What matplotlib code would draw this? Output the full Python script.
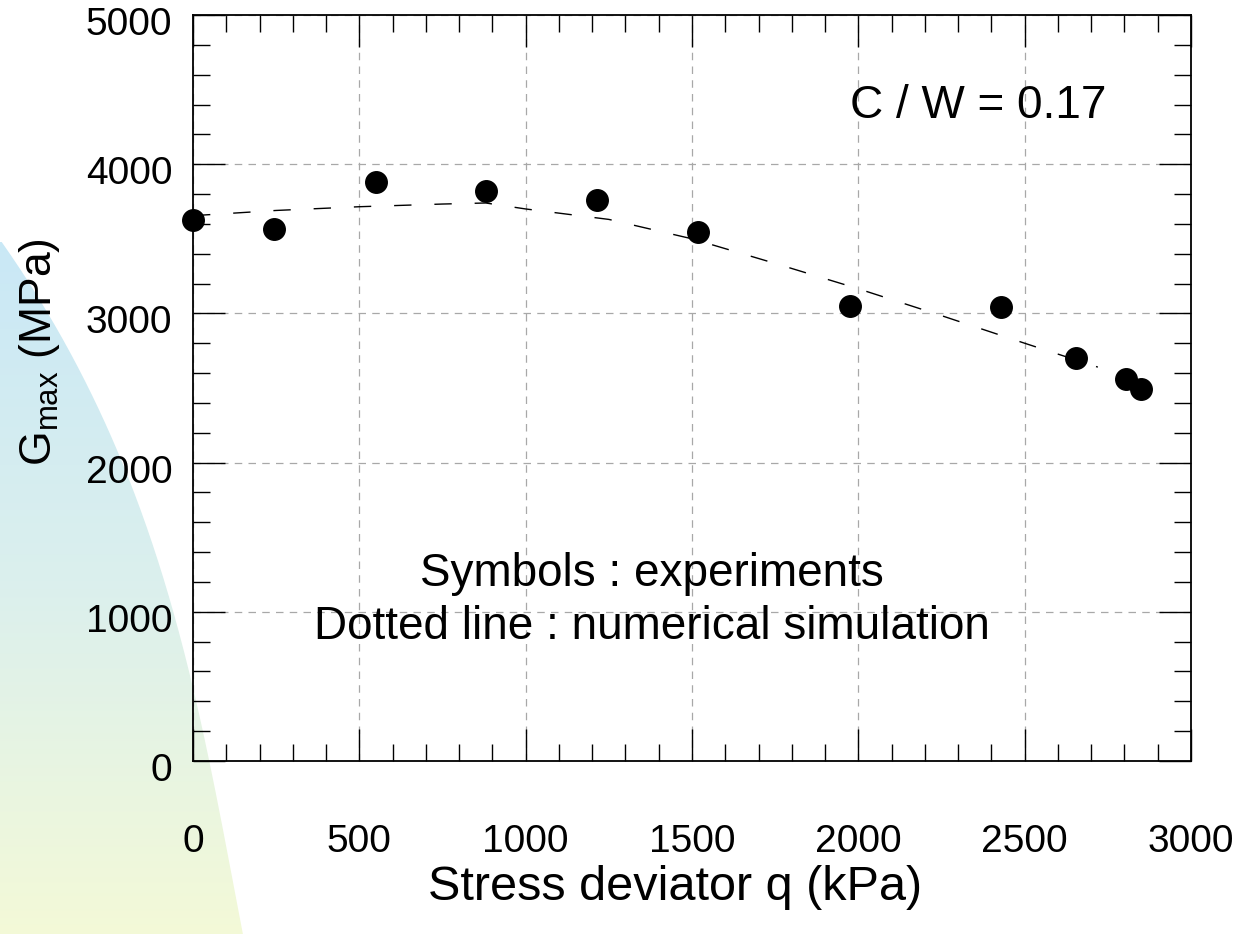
import numpy as np
import matplotlib
matplotlib.use("Agg")
import matplotlib.pyplot as plt
import matplotlib.transforms as mtransforms
from matplotlib.path import Path
from matplotlib.patches import PathPatch

plt.rcParams['font.family'] = ['Liberation Sans', 'DejaVu Sans']
plt.rcParams['mathtext.fontset'] = 'custom'
plt.rcParams['mathtext.rm'] = 'Liberation Sans'
plt.rcParams['mathtext.it'] = 'Liberation Sans'

# Experimental data
q_exp = [0, 243, 551, 880, 1215, 1517, 1976, 2430, 2653, 2805, 2851]
G_exp = [3625, 3566, 3879, 3819, 3760, 3545, 3049, 3040, 2701, 2558, 2491]

# Numerical simulation
q_sim = [0, 250, 500, 750, 880, 1000, 1250, 1500, 1750, 2000, 2250, 2500, 2720]
G_sim = [3655, 3690, 3715, 3733, 3740, 3700, 3630, 3500, 3335, 3165, 2985, 2800, 2640]

x_ticks = [0, 500, 1000, 1500, 2000, 2500, 3000]
y_ticks = [0, 1000, 2000, 3000, 4000, 5000]

W, H = 1245, 934
fig = plt.figure(figsize=(W / 100, H / 100), dpi=100)

# decorative gradient background on the left (smooth curved edge)
bg = fig.add_axes([0, 0, 1, 1], zorder=-5)
bg.set_xlim(0, W)
bg.set_ylim(H, 0)
bg.axis('off')
grad = np.linspace(0, 1, 256)[:, None, None]
top = np.array([0.79, 0.91, 0.965])
mid = np.array([0.86, 0.94, 0.93])
bot = np.array([0.955, 0.978, 0.845])
cols = np.where(grad < 0.5,
                top + (mid - top) * (grad / 0.5),
                mid + (bot - mid) * ((grad - 0.5) / 0.5))
cols = np.repeat(cols, 2, axis=1)
im = bg.imshow(cols, extent=[0, 260, H, 240], aspect='auto', zorder=0)
yb = np.array([242, 290, 340, 407, 480, 547, 613, 680, 760, 847, 934])
xb = np.array([0, 33, 67, 100, 127, 150, 173, 193, 210, 227, 242])
coef = np.polyfit(yb, xb, 3)
yy = np.linspace(242, 934, 200)
xx = np.clip(np.polyval(coef, yy), 0, None)
verts = list(zip(xx, yy)) + [(0, 934), (0, 242)]
poly = PathPatch(Path(verts), facecolor='none', edgecolor='none')
bg.add_patch(poly)
im.set_clip_path(poly)

ax = fig.add_axes([193 / W, 1 - 761 / H, (1191 - 193) / W, (761 - 15) / H])
ax.patch.set_alpha(0)
ax.set_xlim(0, 3000)
ax.set_ylim(0, 5000)

ax.plot(q_sim, G_sim, color='black', lw=1.0, linestyle=(0, (12.5, 16.5)), zorder=3)
ax.plot(q_exp, G_exp, 'o', color='black', markersize=15.5, zorder=4, clip_on=False)

ax.set_xticks(x_ticks)
ax.set_yticks(y_ticks)
ax.set_xticks(np.arange(0, 3001, 100), minor=True)
ax.set_yticks(np.arange(0, 5001, 200), minor=True)
ax.tick_params(which='both', direction='in', top=True, right=True, width=1.0, color='black')
ax.tick_params(which='major', length=23)
ax.tick_params(which='minor', length=12)
ax.tick_params(axis='x', which='major', pad=45, labelsize=28)
ax.tick_params(axis='y', which='major', pad=15, labelsize=28)
for s in ax.spines.values():
    s.set_linewidth(1.3)

shift = mtransforms.ScaledTranslation(0, -6 / 100, fig.dpi_scale_trans)
for lab in ax.get_yticklabels():
    lab.set_transform(lab.get_transform() + shift)

ax.grid(True, which='major', color='#a8a8a8', linestyle=(0, (6, 5)), lw=0.9)
ax.set_axisbelow(True)

fig.text(675 / W, 1 - 888 / H, 'Stress deviator q (kPa)', ha='center', va='center', fontsize=35)
fig.text(40 / W, 1 - 352 / H, r'G$_{\mathrm{max}}$ (MPa)', ha='center', va='center',
         rotation=90, fontsize=32)

ax.text(0.787, 0.878, 'C / W = 0.17', transform=ax.transAxes, ha='center', va='center', fontsize=33)
ax.text(0.46, 0.2507, 'Symbols : experiments', transform=ax.transAxes, ha='center', va='center', fontsize=33)
ax.text(0.46, 0.1796, 'Dotted line : numerical simulation', transform=ax.transAxes, ha='center',
        va='center', fontsize=33)

fig.savefig('out.png', dpi=100)
